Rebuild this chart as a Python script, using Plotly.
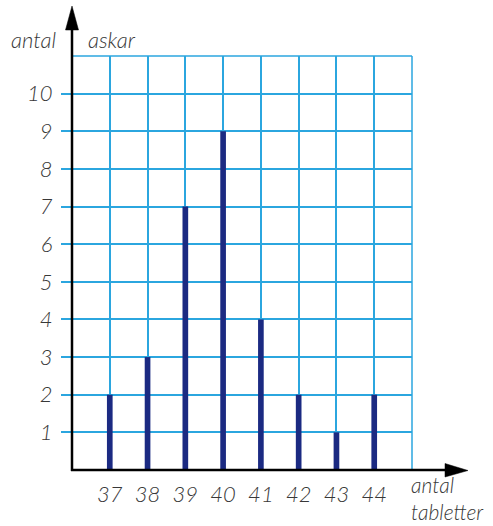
import plotly.graph_objects as go

tabletter = [37, 38, 39, 40, 41, 42, 43, 44]
askar = [2, 3, 7, 9, 4, 2, 1, 2]
y_ticks = [1, 2, 3, 4, 5, 6, 7, 8, 9, 10]
x_ticks = [37, 38, 39, 40, 41, 42, 43, 44, 45]
x_ticktext = ["37", "38", "39", "40", "41", "42", "43", "44", ""]

W, H = 493, 526
L, R, T, B = 72, 412, 56, 470

def px(x):
    return (x - L) / (R - L)

def py(y):
    return (B - y) / (B - T)

grid = "#2ba6df"
ink = "#383838"
font = dict(family="Lato", size=22, color=ink, style="italic", weight=300)

fig = go.Figure(go.Bar(x=tabletter, y=askar, width=0.15,
                       marker=dict(color="#1b2a82", line=dict(width=0))))

fig.update_layout(
    width=W, height=H,
    margin=dict(l=L, r=W - R, t=T, b=H - B, pad=0),
    plot_bgcolor="white", paper_bgcolor="white",
    showlegend=False,
    font=font,
    xaxis=dict(range=[36, 45], tickvals=x_ticks, ticktext=x_ticktext,
               showgrid=True, gridcolor=grid, gridwidth=1.5,
               zeroline=False, showline=False, ticks="", tickfont=font,
               ticklabelstandoff=9, fixedrange=True),
    yaxis=dict(range=[0, 11], tickvals=y_ticks,
               showgrid=True, gridcolor=grid, gridwidth=1.5,
               zeroline=False, showline=False, ticks="outside", ticklen=10,
               tickcolor=grid, tickwidth=1.5, tickfont=font,
               ticklabelstandoff=4, fixedrange=True),
)

shapes = [
    dict(type="line", xref="paper", yref="paper", x0=0, x1=1, y0=1, y1=1,
         line=dict(color=grid, width=1.5)),
    dict(type="line", xref="paper", yref="paper", x0=1, x1=1, y0=0, y1=1,
         line=dict(color=grid, width=1.5)),
    dict(type="line", xref="paper", yref="paper", x0=px(72), x1=px(72),
         y0=py(471), y1=py(28), line=dict(color="black", width=2.5)),
    dict(type="line", xref="paper", yref="paper", x0=px(71), x1=px(447),
         y0=py(470), y1=py(470), line=dict(color="black", width=2.5)),
    dict(type="path", xref="paper", yref="paper",
         path=f"M {px(65.5)} {py(30)} L {px(72)} {py(6)} L {px(78.5)} {py(30)} Z",
         fillcolor="black", line=dict(color="black", width=0.5)),
    dict(type="path", xref="paper", yref="paper",
         path=f"M {px(445)} {py(463.5)} L {px(468)} {py(470.5)} L {px(445)} {py(477)} Z",
         fillcolor="black", line=dict(color="black", width=0.5)),
]
fig.update_layout(shapes=shapes)

annotations = [
    dict(text="antal", x=px(33), y=py(39), xanchor="center", yanchor="middle"),
    dict(text="askar", x=px(112), y=py(39), xanchor="center", yanchor="middle"),
    dict(text="antal<br>tabletter", x=px(410), y=py(525), xanchor="left",
         yanchor="bottom", align="left", font=dict(font, size=21)),
]
for a in annotations:
    a.setdefault("font", font)
    a.update(xref="paper", yref="paper", showarrow=False, borderpad=0)
fig.update_layout(annotations=annotations)

fig.write_html("out.html", config={"displayModeBar": False},
               post_script="document.body.style.margin='0';")
